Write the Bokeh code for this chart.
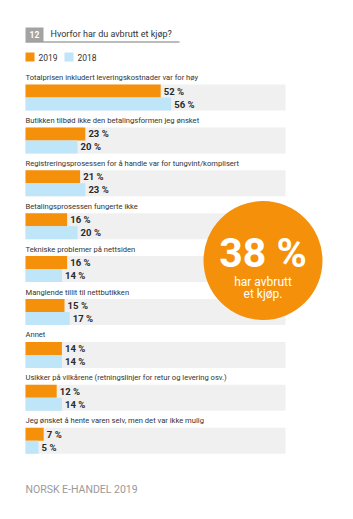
from bokeh.plotting import figure
from bokeh.models import Range1d, ColumnDataSource
from bokeh.core.properties import value
from bokeh.embed import file_html
from bokeh.resources import INLINE

# ---- data ----
categories = [
    "Totalprisen inkludert leveringskostnader var for høy",
    "Butikken tilbød ikke den betalingsformen jeg ønsket",
    "Registreringsprosessen for å handle var for tungvint/komplisert",
    "Betalingsprosessen fungerte ikke",
    "Tekniske problemer på nettsiden",
    "Manglende tillit til nettbutikken",
    "Annet",
    "Usikker på vilkårene (retningslinjer for retur og levering osv.)",
    "Jeg ønsket å hente varen selv, men det var ikke mulig",
]
v2019 = [52, 23, 21, 16, 16, 15, 14, 12, 7]
v2018 = [56, 20, 23, 20, 14, 17, 14, 14, 5]
years = ["2019", "2018"]
question_no = "12"
title_text = "Hvorfor har du avbrutt et kjøp?"
highlight_value = "38 %"
highlight_lines = ["har avbrutt", "et kjøp."]
footer_text = "NORSK E-HANDEL 2019"

# ---- style / layout ----
W, H = 353, 519
LEFT_PX = 25.0
PX_PER_PCT = 2.6
ORANGE = "#F5900A"
BLUE = "#BEE5F8"
BG = "#F0F0F0"
DARK = "#2a2a2a"
FONT = "Roboto"

def px(xp):
    return (xp - LEFT_PX) / PX_PER_PCT

p = figure(width=W, height=H,
           x_range=Range1d(px(0), px(W)), y_range=Range1d(H, 0),
           x_axis_type=None, y_axis_type=None,
           output_backend="svg", toolbar_location=None, min_border=0)
p.grid.visible = False
p.outline_line_color = None
p.background_fill_color = "white"
p.border_fill_color = "white"

n = len(categories)
top0, pitch, bh = 84.0, 42.9, 13.0
tops = [top0 + i * pitch for i in range(n)]

src = ColumnDataSource(dict(
    cat=categories,
    v19=v2019, v18=v2018,
    lab19=[f"{v} %" for v in v2019],
    lab18=[f"{v} %" for v in v2018],
    ylab=[t - 7 for t in tops],
    y19=[t + bh / 2 for t in tops],
    y18=[t + bh * 1.5 for t in tops],
    ybg=[t + bh for t in tops],
    x19=[v + 1.2 for v in v2019],
    x18=[v + 1.2 for v in v2018],
    full=[100] * n,
    zero=[0] * n,
))

# background track
p.hbar(y="ybg", left="zero", right="full", height=bh * 2, source=src,
       fill_color=BG, line_color=None)
p.hbar(y="y19", left="zero", right="v19", height=bh, source=src,
       fill_color=ORANGE, line_color=None)
p.hbar(y="y18", left="zero", right="v18", height=bh, source=src,
       fill_color=BLUE, line_color=None)

# category labels
p.text(x=0, y="ylab", text="cat", source=src, text_font=value(FONT),
       text_font_size="7.6px", text_color="#333333", text_baseline="middle")
# value labels
p.text(x="x19", y="y19", text="lab19", source=src, text_font=value(FONT),
       text_font_size="9.5px", text_font_style="bold", text_color=DARK,
       text_baseline="middle")
p.text(x="x18", y="y18", text="lab18", source=src, text_font=value(FONT),
       text_font_size="9.5px", text_font_style="bold", text_color=DARK,
       text_baseline="middle")

# header box + title
p.quad(left=[px(25)], right=[px(43)], top=[27], bottom=[41],
       fill_color="#A3A3A3", line_color=None)
p.text(x=[px(34)], y=[34.3], text=[question_no], text_font=value(FONT),
       text_font_size="8.5px", text_font_style="bold", text_color="white",
       text_align="center", text_baseline="middle")
p.text(x=[px(50)], y=[33.5], text=[title_text], text_font=value(FONT),
       text_font_size="9px", text_color="#333333", text_baseline="middle")
p.line(x=[px(25), px(179)], y=[41.5, 41.5], line_color="#555555", line_width=0.8)

# legend
p.quad(left=[px(25), px(64)], right=[px(34), px(73)], top=[52, 52], bottom=[61, 61],
       fill_color=[ORANGE, BLUE], line_color=None)
p.text(x=[px(38), px(77)], y=[57, 57], text=years, text_font=value(FONT),
       text_font_size="8.5px", text_color="#333333", text_baseline="middle")

# highlight circle
cx, cy = px(262.5), 260
p.scatter(x=[cx], y=[cy], size=119, marker="circle", fill_color=ORANGE, line_color=None)
p.text(x=[cx], y=[252.5], text=[highlight_value], text_font=value(FONT),
       text_font_size="41px", text_font_style="bold", text_color="white",
       text_align="center", text_baseline="middle")
p.text(x=[cx, cx], y=[281, 293.5], text=highlight_lines, text_font=value(FONT),
       text_font_size="12px", text_color="white",
       text_align="center", text_baseline="middle")

# footer
p.text(x=[0], y=[489], text=[footer_text], text_font=value(FONT),
       text_font_size="10.5px", text_color="#9a9a9a", text_baseline="middle")

open("out.html", "w").write(file_html(p, INLINE))
